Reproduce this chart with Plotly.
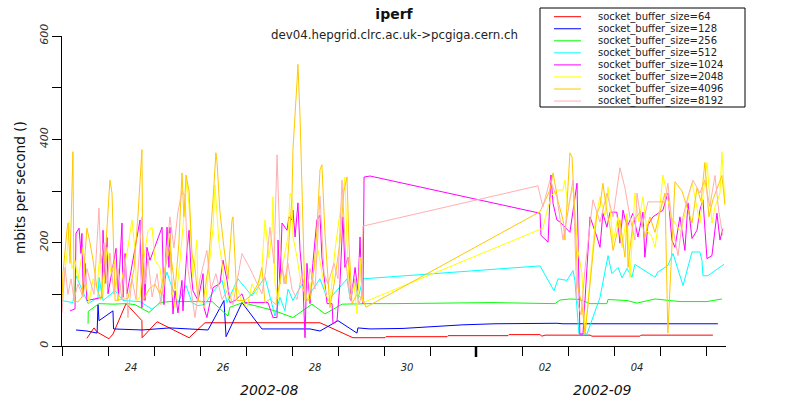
import plotly.graph_objects as go
import pandas as pd

START = "2002-08-23 00:00"
END = "2002-09-06 10:26"

NAMES = ["socket_buffer_size=64", "socket_buffer_size=128", "socket_buffer_size=256",
         "socket_buffer_size=512", "socket_buffer_size=1024", "socket_buffer_size=2048",
         "socket_buffer_size=4096", "socket_buffer_size=8192"]
COLORS = ["#ff0000", "#0000ff", "#00ff00", "#00ffff", "#ff00ff", "#ffff00", "#ffc800", "#ffafaf"]

# hours since 2002-08-23 00:00, and mbits per second
H64 = [13.0, 16.7, 18.3, 24.5, 26.6, 33.4, 41.7, 41.8, 49.6, 56.3, 66.3, 74.6, 134.6, 151.8,
       168.5, 169.0, 200.9, 201.4, 232.7, 233.2, 249.4, 250.4, 252.0, 275.5, 276.5, 301.6, 302.1, 339.6]
V64 = [15, 35, 27, 14, 23, 82, 49, 16, 47, 35, 16, 45, 45, 16,
       16, 18, 18, 20, 20, 22, 22, 19, 21, 21, 19, 19, 21, 21]

H128 = [7.3, 13.0, 18.3, 18.8, 19.3, 26.6, 26.9, 41.7, 56.3, 64.2,
        76.2, 84.5, 85.6, 93.9, 104.3, 129.4, 134.6, 144.0, 153.9, 154.4,
        160.7, 177.9, 193.6, 209.2, 225.9, 241.5, 258.2, 261.4, 302.6, 304.1, 342.2]
V128 = [31, 29, 25, 80, 49, 68, 33, 31, 35, 33,
        31, 88, 18, 84, 33, 33, 29, 49, 25, 35,
        33, 34, 38, 41, 43, 44, 44, 43, 43, 44, 43]

H256 = [13.6, 13.7, 19.3, 26.6, 33.9, 38.1, 45.4, 51.1, 56.3, 78.3,
        86.6, 87.6, 94.4, 111.1, 120.5, 130.4, 137.2, 146.1, 160.7, 172.7,
        224.3, 257.2, 259.8, 265.0, 270.2, 275.5, 284.3, 284.9, 294.8, 300.0,
        309.4, 314.6, 322.4, 336.5, 344.3]
V256 = [43, 67, 82, 81, 82, 80, 65, 84, 86, 86,
        58, 75, 84, 68, 55, 81, 62, 81, 82, 82,
        84, 82, 89, 91, 90, 82, 82, 90, 88, 83,
        91, 89, 86, 86, 91]

H512 = [0.0, 5.7, 7.3, 9.4, 13.6, 18.8, 19.3, 21.4, 27.7, 31.8,
        40.7, 47.0, 51.1, 53.2, 54.8, 56.3, 60.5, 64.7, 67.8, 71.0,
        74.6, 78.8, 83.5, 86.1, 91.8, 99.1, 105.9, 109.6, 111.1, 113.7,
        116.3, 117.9, 120.5, 125.2, 127.8, 130.4, 134.6, 138.8, 143.5, 148.7,
        150.3, 152.9, 154.4, 157.0, 249.4, 256.7, 258.8, 263.5, 266.6, 267.6,
        269.7, 273.9, 280.7, 284.9, 286.9, 290.1, 292.2, 294.8, 297.4, 298.9,
        309.4, 310.9, 316.1, 318.8, 324.0, 328.7, 332.8, 333.9, 334.4, 337.0,
        339.6, 345.4]
V512 = [88, 84, 136, 117, 82, 94, 133, 88, 107, 88,
        86, 71, 84, 125, 143, 125, 84, 117, 84, 78,
        81, 104, 127, 84, 130, 97, 133, 80, 58, 94,
        68, 110, 88, 120, 88, 107, 130, 88, 107, 130,
        91, 130, 91, 130, 155, 107, 130, 127, 146, 127,
        23, 23, 94, 175, 140, 152, 132, 150, 133, 158,
        133, 143, 156, 179, 117, 182, 182, 166, 136, 136,
        143, 158]

H1024 = [4.2, 6.8, 7.3, 8.9, 9.9, 10.4, 11.0, 12.0, 13.0, 20.9,
         21.4, 22.4, 23.5, 24.0, 28.2, 29.2, 31.3, 31.8, 32.9, 33.9,
         40.7, 41.7, 42.3, 43.3, 44.3, 45.9, 52.2, 53.2, 54.3, 54.8,
         55.8, 56.3, 57.4, 57.9, 59.0, 60.5, 62.6, 63.1, 65.2, 66.3,
         67.3, 68.3, 71.0, 73.6, 74.1, 75.6, 77.2, 78.8, 82.4, 84.0,
         86.1, 87.6, 90.3, 93.9, 95.5, 104.3, 107.5, 110.1, 112.2, 112.7,
         113.7, 114.8, 117.4, 118.4, 120.0, 120.5, 121.6, 123.1, 124.2, 125.7,
         126.8, 127.8, 129.4, 130.9, 133.0, 134.6, 135.6, 138.3, 140.9, 141.4,
         143.5, 145.0, 146.6, 147.6, 149.2, 150.8, 152.9, 154.4, 155.5, 156.5,
         157.0, 157.6, 160.7, 249.4, 249.9, 253.6, 255.1, 256.2, 258.2, 259.8,
         265.0, 268.7, 270.2, 271.8, 275.5, 279.1, 280.7, 282.2, 284.3, 285.9,
         289.5, 291.1, 292.7, 294.8, 297.9, 300.5, 303.1, 304.1, 305.7, 308.3,
         313.5, 316.1, 318.2, 319.8, 322.4, 325.0, 326.6, 328.7, 331.3, 332.8,
         334.4, 336.5, 339.1, 341.7, 343.3, 344.8]
V1024 = [68, 72, 218, 228, 179, 218, 101, 160, 88, 94,
         224, 121, 210, 101, 189, 88, 238, 94, 179, 101,
         244, 74, 179, 88, 191, 166, 230, 80, 185, 230,
         152, 230, 107, 62, 107, 64, 127, 68, 185, 224,
         146, 107, 88, 140, 74, 55, 84, 113, 121, 166,
         127, 84, 88, 101, 84, 84, 84, 55, 55, 205,
         120, 238, 224, 250, 244, 263, 211, 277, 185, 121,
         16, 160, 82, 160, 244, 253, 172, 82, 82, 43,
         49, 121, 250, 152, 172, 88, 152, 107, 211, 94,
         82, 327, 329, 257, 214, 201, 331, 276, 244, 240,
         220, 315, 23, 23, 250, 211, 191, 257, 230, 259,
         259, 199, 263, 230, 257, 211, 259, 172, 234, 250,
         263, 296, 205, 191, 250, 185, 277, 208, 224, 263,
         283, 169, 175, 257, 205, 227]

H2048 = [0.0, 2.6, 3.7, 5.2, 6.8, 8.3, 11.0, 12.0, 14.1, 16.2,
         18.3, 19.8, 21.4, 23.5, 25.6, 27.7, 29.2, 32.3, 34.4, 36.5,
         38.1, 39.1, 40.7, 42.3, 44.9, 47.0, 48.5, 51.1, 52.7, 54.8,
         56.3, 57.4, 59.0, 61.6, 63.6, 65.2, 66.8, 68.3, 70.4, 71.0,
         74.6, 76.7, 78.8, 79.8, 81.9, 83.5, 85.0, 87.6, 90.8, 93.4,
         96.5, 99.1, 101.7, 104.3, 105.9, 108.0, 109.6, 110.1, 111.1, 112.7,
         114.8, 116.3, 117.9, 119.0, 120.0, 120.5, 122.6, 124.7, 126.8, 128.3,
         130.9, 133.6, 136.2, 137.7, 139.8, 142.4, 145.0, 146.6, 147.6, 148.7,
         150.3, 152.4, 153.9, 155.5, 156.5, 157.0, 250.9, 253.6, 255.6, 258.2,
         261.4, 262.4, 264.0, 266.6, 269.2, 271.3, 272.9, 274.4, 276.5, 278.1,
         280.7, 283.3, 284.9, 287.5, 290.1, 292.2, 294.8, 296.3, 298.9, 301.0,
         303.1, 305.2, 307.8, 309.4, 310.9, 313.5, 315.6, 317.7, 319.8, 323.0,
         326.1, 328.7, 330.2, 332.8, 336.5, 339.1, 340.7, 343.3, 344.3, 345.9]
V2048 = [95, 179, 240, 150, 166, 127, 191, 132, 84, 130,
         113, 180, 94, 191, 140, 166, 88, 150, 191, 244,
         185, 88, 95, 160, 224, 230, 166, 152, 100, 191,
         218, 107, 74, 166, 250, 321, 244, 132, 205, 88,
         74, 150, 230, 312, 200, 160, 113, 88, 120, 90,
         74, 120, 100, 152, 244, 170, 224, 289, 121, 91,
         150, 180, 211, 296, 283, 211, 172, 120, 100, 88,
         140, 185, 130, 100, 82, 185, 257, 289, 327, 200,
         94, 120, 62, 172, 100, 84, 228, 269, 292, 302,
         302, 321, 269, 308, 185, 140, 23, 88, 185, 238,
         289, 253, 308, 200, 250, 190, 257, 132, 296, 240,
         289, 223, 211, 191, 230, 331, 296, 250, 238, 220,
         277, 316, 289, 238, 355, 238, 269, 296, 376, 277]

H4096 = [0.0, 0.5, 2.6, 3.1, 4.2, 5.2, 5.7, 6.3, 8.3, 10.4,
         13.0, 14.6, 16.2, 18.3, 20.3, 23.0, 25.0, 26.1, 27.7, 31.3,
         34.4, 37.6, 39.6, 41.7, 42.3, 45.4, 48.5, 51.1, 53.7, 56.3,
         59.0, 61.0, 62.6, 63.6, 64.7, 66.3, 67.8, 69.4, 71.0, 73.6,
         76.2, 78.8, 80.3, 80.9, 82.4, 84.5, 86.6, 88.7, 89.2, 91.3,
         95.5, 99.1, 102.2, 104.3, 105.9, 108.5, 111.6, 114.8, 116.9, 120.0,
         120.5, 122.6, 123.1, 124.2, 125.2, 125.7, 126.8, 129.4, 131.5, 133.0,
         134.6, 135.6, 137.2, 139.8, 142.4, 145.0, 147.1, 148.7, 149.7, 151.3,
         153.9, 157.0, 158.6, 249.4, 254.6, 256.2, 258.8, 261.4, 262.4, 265.0,
         266.1, 267.6, 269.2, 271.3, 272.9, 275.5, 279.1, 280.7, 282.2, 284.3,
         285.9, 287.5, 291.1, 293.7, 294.8, 295.3, 297.9, 301.6, 304.1, 306.7,
         309.4, 312.0, 314.6, 316.1, 317.2, 319.8, 323.5, 326.1, 328.7, 331.3,
         333.4, 335.4, 337.5, 339.6, 342.2, 344.3, 345.9]
V4096 = [88, 140, 224, 238, 160, 347, 376, 88, 85, 95,
         228, 200, 166, 110, 90, 200, 321, 296, 88, 90,
         92, 150, 250, 380, 88, 110, 120, 100, 150, 191,
         110, 200, 335, 250, 331, 300, 179, 150, 88, 85,
         150, 283, 374, 355, 260, 190, 130, 244, 250, 88,
         88, 100, 120, 152, 84, 91, 80, 150, 120, 289,
         380, 510, 545, 444, 315, 230, 88, 90, 150, 224,
         341, 351, 218, 74, 130, 200, 300, 327, 200, 82,
         100, 91, 75, 260, 302, 335, 280, 244, 205, 374,
         366, 250, 113, 80, 23, 120, 257, 270, 315, 260,
         230, 185, 244, 172, 244, 152, 240, 260, 210, 250,
         220, 260, 296, 25, 107, 318, 300, 270, 238, 306,
         280, 355, 250, 283, 308, 330, 273]

H8192 = [0.0, 1.6, 3.1, 4.7, 6.3, 8.3, 11.0, 13.0, 14.6, 16.7,
         19.3, 20.3, 22.0, 23.5, 25.0, 27.1, 29.2, 31.3, 32.9, 34.4,
         36.5, 38.6, 41.7, 43.3, 44.9, 47.0, 49.6, 51.6, 53.7, 56.3,
         58.4, 60.5, 62.6, 64.2, 65.7, 67.8, 69.4, 72.0, 74.1, 75.6,
         77.7, 80.3, 83.5, 86.6, 89.2, 93.9, 98.1, 101.7, 104.3, 106.4,
         108.5, 110.6, 112.2, 113.7, 115.8, 117.9, 120.0, 122.6, 125.2, 127.3,
         129.4, 132.0, 134.6, 136.7, 138.8, 141.9, 144.0, 146.1, 148.2, 150.3,
         152.9, 154.9, 156.5, 157.0, 248.3, 250.9, 253.0, 254.6, 258.2, 261.4,
         264.0, 266.6, 268.7, 270.8, 272.9, 275.0, 277.0, 280.7, 284.3, 287.5,
         291.1, 293.7, 296.3, 298.9, 300.0, 302.6, 305.7, 309.4, 313.0, 314.6,
         316.1, 318.2, 321.4, 324.0, 326.6, 329.2, 332.8, 335.4, 338.0, 340.7,
         342.7, 344.8]
V8192 = [64, 152, 100, 130, 90, 120, 95, 150, 127, 100,
         267, 160, 200, 120, 180, 100, 150, 90, 170, 55,
         130, 90, 250, 120, 170, 95, 140, 80, 140, 250,
         190, 260, 300, 290, 150, 90, 55, 130, 160, 185,
         110, 140, 90, 110, 80, 179, 150, 120, 101, 150,
         230, 160, 370, 200, 120, 160, 110, 90, 140, 90,
         150, 110, 290, 140, 120, 160, 130, 321, 160, 90,
         130, 80, 100, 232, 310, 269, 300, 321, 289, 205,
         260, 321, 88, 60, 150, 220, 283, 240, 296, 250,
         345, 306, 250, 205, 296, 230, 279, 279, 279, 279,
         315, 238, 175, 250, 290, 321, 296, 321, 270, 330,
         260, 214]

SERIES_H = [H64, H128, H256, H512, H1024, H2048, H4096, H8192]
SERIES_V = [V64, V128, V256, V512, V1024, V2048, V4096, V8192]

X_TICK_VALS = ["2002-08-24 12:00", "2002-08-26 12:00", "2002-08-28 12:00",
               "2002-08-30 12:00", "2002-09-02 12:00", "2002-09-04 12:00"]
X_TICK_TEXT = ["24", "26", "28", "30", "02", "04"]
MONTH_POS = ["2002-08-27 12:00", "2002-09-03 18:00"]
MONTH_TEXT = ["2002-08", "2002-09"]
Y_TICK_VALS = [0, 100, 200, 300, 400, 500, 600]
Y_TICK_TEXT = ["0", "", "200", "", "400", "", "600"]

FONT = "DejaVu Sans"


def to_time(hours):
    return pd.Timestamp(START) + pd.to_timedelta(hours, unit="h")


fig = go.Figure()
for name, color, h, v in zip(NAMES, COLORS, SERIES_H, SERIES_V):
    fig.add_trace(go.Scatter(x=to_time(h), y=v, mode="lines", name=name,
                             line=dict(color=color, width=1), showlegend=False,
                             hoverinfo="skip"))

# plot area geometry in pixels (for layout helpers)
L, R, T, B = 62, 726, 36, 346
PW, PH = R - L, B - T


def px(x):
    return (x - L) / PW


def py(y):
    return (B - y) / PH


shapes = []
annotations = []

# legend box drawn by hand
shapes.append(dict(type="rect", xref="paper", yref="paper", x0=px(540), x1=px(745),
                   y0=py(107), y1=py(8), line=dict(color="black", width=1),
                   fillcolor="white", layer="above"))
for i, (name, color) in enumerate(zip(NAMES, COLORS)):
    yy = py(16.7 + 12.05 * i)
    shapes.append(dict(type="line", xref="paper", yref="paper", x0=px(554), x1=px(581),
                       y0=yy, y1=yy, line=dict(color=color, width=1), layer="above"))
    annotations.append(dict(text=name, xref="paper", yref="paper", x=px(596), y=yy,
                            xanchor="left", yanchor="middle", showarrow=False,
                            font=dict(family=FONT, size=10, color="#222")))

# thick tick at the month boundary
shapes.append(dict(type="line", xref="x", yref="paper", x0="2002-09-01", x1="2002-09-01",
                   y0=0, y1=-11 / PH, line=dict(color="black", width=2.5)))

# month labels
for pos, txt in zip(MONTH_POS, MONTH_TEXT):
    annotations.append(dict(text=txt, xref="x", yref="paper", x=pos, y=py(390),
                            xanchor="center", yanchor="middle", showarrow=False,
                            font=dict(family=FONT, size=14, color="#111", style="italic")))

# subtitle
annotations.append(dict(text="dev04.hepgrid.clrc.ac.uk->pcgiga.cern.ch", xref="paper",
                        yref="paper", x=0.5, y=py(35), xanchor="center", yanchor="middle",
                        showarrow=False, font=dict(family=FONT, size=11.8, color="#222")))
# y axis title
annotations.append(dict(text="mbits per second ()", xref="paper", yref="paper",
                        x=px(20), y=py(188), textangle=-90, xanchor="center",
                        yanchor="middle", showarrow=False,
                        font=dict(family=FONT, size=13.6, color="#111")))

fig.update_layout(
    width=788, height=399,
    margin=dict(l=L, r=788 - R, t=T, b=399 - B),
    paper_bgcolor="white", plot_bgcolor="white",
    title=dict(text="<b>iperf</b>", x=0.5, xref="paper", y=1 - 14 / 399,
               yanchor="middle", xanchor="center",
               font=dict(family=FONT, size=14, color="#111")),
    shapes=shapes, annotations=annotations,
    showlegend=False,
    xaxis=dict(type="date", range=[START, END], showgrid=False, zeroline=False,
               showline=True, linecolor="black", linewidth=1,
               tickmode="array", tickvals=X_TICK_VALS, ticktext=X_TICK_TEXT,
               ticks="outside", ticklen=12, tickcolor="rgba(0,0,0,0)",
               tickfont=dict(family=FONT, size=10, color="#222", style="italic"),
               minor=dict(ticks="outside", ticklen=9, tickcolor="black", tickwidth=1,
                          tickmode="linear", tick0=START, dtick=86400000, showgrid=False)),
    yaxis=dict(range=[0, 600], showgrid=False, zeroline=False,
               showline=True, linecolor="black", linewidth=1,
               tickmode="array", tickvals=Y_TICK_VALS, ticktext=Y_TICK_TEXT,
               ticks="outside", ticklen=9, tickcolor="black",
               tickangle=-90,
               tickfont=dict(family=FONT, size=11, color="#333", style="italic")),
)

fig.write_html("out.html", config={"displayModeBar": False},
               post_script="document.body.style.margin='0';document.body.style.overflow='hidden';")
